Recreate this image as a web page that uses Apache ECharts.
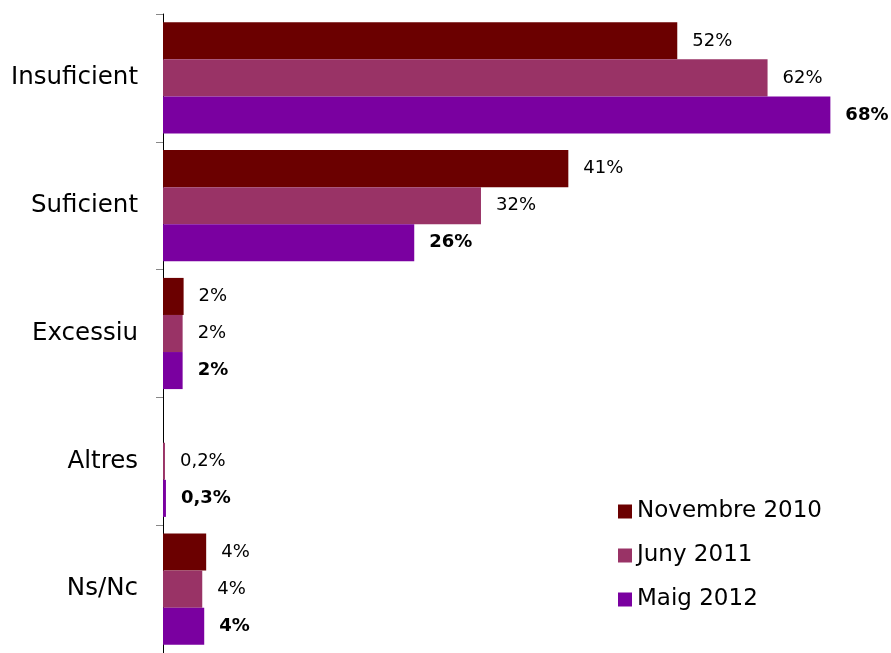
<!DOCTYPE html>
<html>
<head>
<meta charset="utf-8">
<script src="https://cdn.jsdelivr.net/npm/echarts@6/dist/echarts.min.js"></script>
<style>
  html, body { margin: 0; padding: 0; background: #fff; }
  #chart { width: 891px; height: 653px; }
</style>
</head>
<body>
<div id="chart"></div>
<script>
// categories top to bottom
const categories = ['Insuficient', 'Suficient', 'Excessiu', 'Altres', 'Ns/Nc'];
const seriesNames = ['Novembre 2010', 'Juny 2011', 'Maig 2012'];
// values (%)
const nov2010 = [52.4, 41.3, 2.1, null, 4.4];
const jun2011 = [61.6, 32.4, 2.0, 0.2, 4.0];
const mai2012 = [68.0, 25.6, 2.0, 0.3, 4.2];
const colors = ['#6B0000', '#993366', '#7A00A0'];

const fontFamily = '"DejaVu Sans", sans-serif';

// rounded like the original: whole numbers, one decimal (comma) below 1
const fmt = (p) => {
  const v = p.value;
  if (v == null) return '';
  return (v < 1 ? v.toFixed(1).replace('.', ',') : Math.round(v)) + '%';
};

const makeSeries = (name, data, color, bold) => ({
  name: name,
  type: 'bar',
  data: data,
  barGap: '0%',
  barCategoryGap: '13%',
  itemStyle: { color: color },
  label: {
    show: true,
    position: 'right',
    distance: 15,
    formatter: fmt,
    color: '#000',
    fontSize: 18,
    fontFamily: fontFamily,
    fontWeight: bold ? 'bold' : 'normal'
  },
  emphasis: { disabled: true }
});

const chart = echarts.init(document.getElementById('chart'));
chart.setOption({
  animation: false,
  backgroundColor: '#fff',
  grid: { left: 163, top: 14, right: 41, height: 643, containLabel: false },
  xAxis: {
    type: 'value',
    min: 0,
    max: 70,
    show: false
  },
  yAxis: {
    type: 'category',
    data: categories,
    inverse: true,
    axisLine: { lineStyle: { color: '#000', width: 1 } },
    axisTick: { show: true, length: 7, lineStyle: { color: '#888' } },
    axisLabel: { margin: 25, fontSize: 24.5, color: '#000', fontFamily: fontFamily }
  },
  legend: {
    orient: 'vertical',
    left: 613,
    top: 495,
    itemWidth: 14,
    itemHeight: 14,
    itemGap: 21,
    icon: 'rect',
    data: seriesNames,
    textStyle: { fontSize: 23, color: '#000', fontFamily: fontFamily, lineHeight: 23 }
  },
  color: colors,
  series: [
    makeSeries(seriesNames[0], nov2010, colors[0], false),
    makeSeries(seriesNames[1], jun2011, colors[1], false),
    makeSeries(seriesNames[2], mai2012, colors[2], true)
  ]
});
</script>
</body>
</html>
